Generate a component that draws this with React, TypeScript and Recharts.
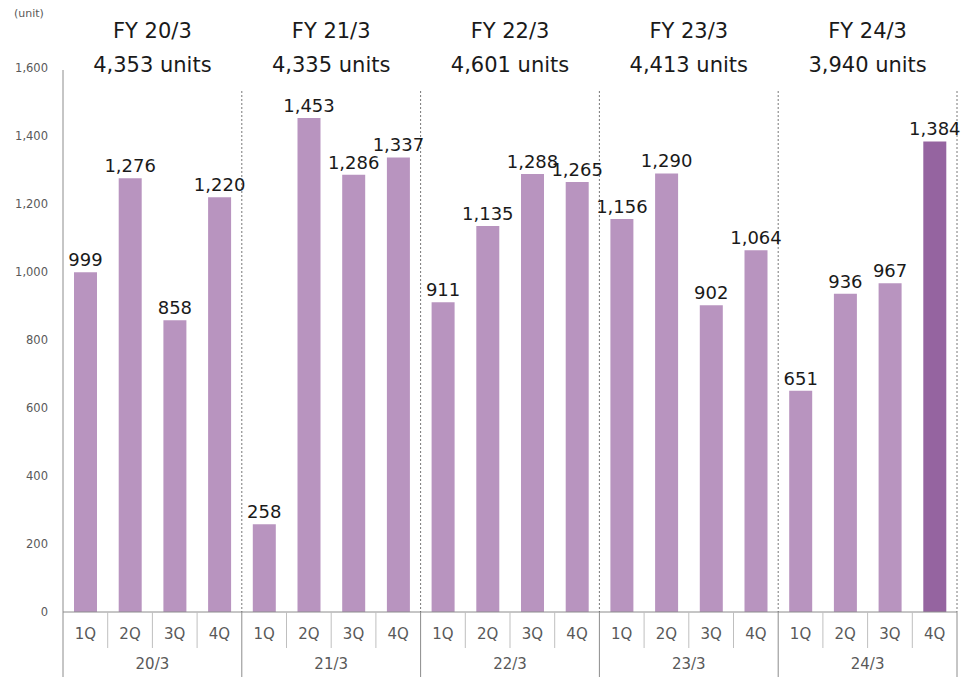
import React from 'react';
import { BarChart, Bar, XAxis, YAxis, Cell, LabelList } from 'recharts';

// Quarterly unit sales by fiscal year
const fiscalYears = ['20/3', '21/3', '22/3', '23/3', '24/3'];
const fyTotals = ['4,353', '4,335', '4,601', '4,413', '3,940'];
const quarters = ['1Q', '2Q', '3Q', '4Q'];
const units = [
  999, 1276, 858, 1220,
  258, 1453, 1286, 1337,
  911, 1135, 1288, 1265,
  1156, 1290, 902, 1064,
  651, 936, 967, 1384,
];
const yTicks = [0, 200, 400, 600, 800, 1000, 1200, 1400, 1600];

const data = units.map((value, i) => ({
  key: `${fiscalYears[Math.floor(i / 4)]}-${quarters[i % 4]}`,
  quarter: quarters[i % 4],
  year: fiscalYears[Math.floor(i / 4)],
  units: value,
}));

const WIDTH = 966;
const HEIGHT = 677;
const MARGIN = { top: 68, right: 9, bottom: 0, left: 0 };
const Y_AXIS_W = 63;
const PLOT_W = WIDTH - MARGIN.left - MARGIN.right - Y_AXIS_W;
const BAND = PLOT_W / data.length;

const FONT = '"DejaVu Sans", Verdana, sans-serif';
const BAR_COLOR = '#b894bf';
const HIGHLIGHT_COLOR = '#9564a0';
const AXIS_TEXT = '#595959';

const fmt = (v: number) => v.toLocaleString('en-US');

const QuarterTick = (props: any) => {
  const { x, y, payload, index } = props;
  const pos = index % 4;
  const group = Math.floor(index / 4);
  const right = x + BAND / 2;
  return (
    <g>
      <text
        x={x}
        y={y + 27}
        textAnchor="middle"
        fontSize={15}
        fill={AXIS_TEXT}
        fontFamily={FONT}
      >
        {payload.value}
      </text>
      {index === 0 && (
        <line x1={x - BAND / 2} x2={x - BAND / 2} y1={70} y2={y + 65} stroke="#8c8c8c" />
      )}
      {pos < 3 ? (
        <line x1={right} x2={right} y1={y} y2={y + 36} stroke="#bfbfbf" />
      ) : (
        <g>
          <line x1={right} x2={right} y1={y} y2={y + 65} stroke="#8c8c8c" />
          <line x1={right} x2={right} y1={91} y2={y} stroke="#555" strokeDasharray="2 2" strokeWidth={0.8} />
        </g>
      )}
      {pos === 1 && (
        <g fontFamily={FONT}>
          <text x={right} y={y + 57} textAnchor="middle" fontSize={15} fill={AXIS_TEXT}>
            {fiscalYears[group]}
          </text>
          <text x={right} y={38} textAnchor="middle" fontSize={21} fill="#1a1a1a">
            {`FY ${fiscalYears[group]}`}
          </text>
          <text x={right} y={72} textAnchor="middle" fontSize={21} fill="#1a1a1a">
            {`${fyTotals[group]} units`}
          </text>
        </g>
      )}
    </g>
  );
};

const App: React.FC = () => {
  return (
    <div style={{ position: 'absolute', left: 0, top: 0, width: WIDTH, height: HEIGHT, background: '#fff' }}>
      <div
        style={{
          position: 'absolute',
          left: 14,
          top: 7,
          fontSize: 11,
          color: AXIS_TEXT,
          fontFamily: FONT,
        }}
      >
        (unit)
      </div>
      <BarChart width={WIDTH} height={HEIGHT} data={data} margin={MARGIN} barSize={23}>
        <XAxis
          dataKey="key"
          interval={0}
          height={65}
          axisLine={{ stroke: '#8c8c8c' }}
          tickLine={false}
          tickSize={0}
          tickMargin={0}
          tick={(p: any) => <QuarterTick {...p} payload={{ value: data[p.index].quarter }} />}
        />
        <YAxis
          width={Y_AXIS_W}
          domain={[0, 1600]}
          ticks={yTicks}
          axisLine={false}
          tickLine={false}
          tickSize={0}
          tickMargin={15}
          tickFormatter={fmt}
          tick={{ fontSize: 11.5, fill: AXIS_TEXT, fontFamily: FONT }}
        />
        <Bar dataKey="units" isAnimationActive={false}>
          {data.map((d, i) => (
            <Cell key={d.key} fill={i === data.length - 1 ? HIGHLIGHT_COLOR : BAR_COLOR} />
          ))}
          <LabelList
            dataKey="units"
            position="top"
            offset={6}
            formatter={(v: any) => fmt(Number(v))}
            style={{ fontSize: 18, fill: '#1a1a1a', fontFamily: FONT }}
          />
        </Bar>
      </BarChart>
    </div>
  );
};

export default App;
